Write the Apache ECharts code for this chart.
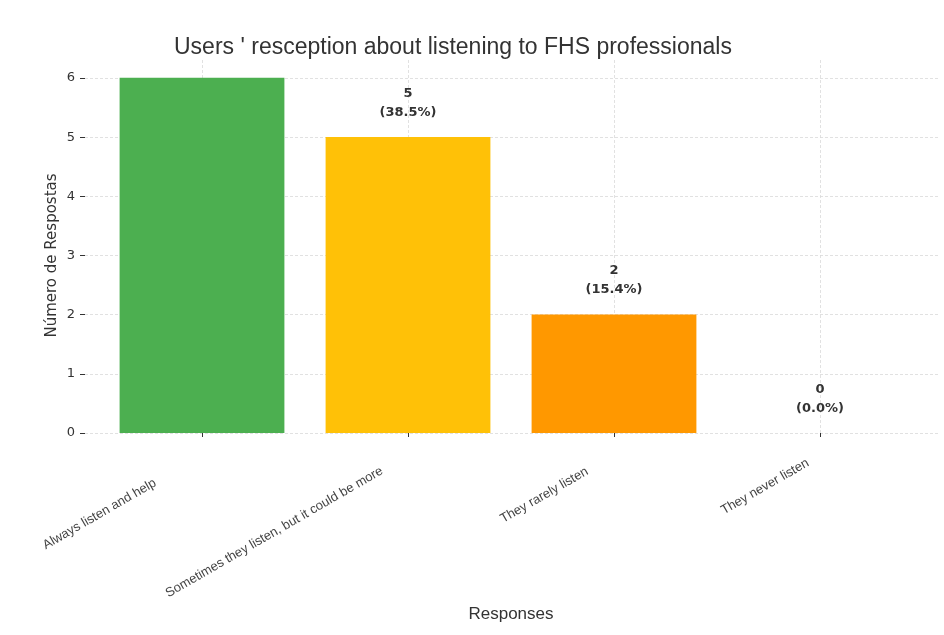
<!DOCTYPE html>
<html>
<head>
<meta charset="utf-8">
<script src="https://cdn.jsdelivr.net/npm/echarts@6/dist/echarts.min.js"></script>
<style>
html,body{margin:0;padding:0;background:#fff;}
#chart{width:944px;height:635px;}
</style>
</head>
<body>
<div id="chart"></div>
<script>
var categories = ['Always listen and help', 'Sometimes they listen, but it could be more', 'They rarely listen', 'They never listen'];
var counts = [6, 5, 2, 0];
var percents = ['46.2%', '38.5%', '15.4%', '0.0%'];
var showLabel = [false, true, true, true];
var barColors = ['#4CAF50', '#FFC107', '#FF9800', '#F44336'];
var yTicks = [0, 1, 2, 3, 4, 5, 6];
var labelShift = [54, 30, 31, 14];

var chart = echarts.init(document.getElementById('chart'), null, {renderer: 'canvas'});

var gridLine = {show: true, lineStyle: {color: '#d9d9d9', type: [3, 2], width: 0.8}};

var option = {
  backgroundColor: '#ffffff',
  animation: false,
  title: {
    text: "Users ' resception about listening to FHS professionals",
    left: 169, top: 31,
    textStyle: {fontFamily: 'Liberation Sans', fontSize: 23, fontWeight: 'normal', color: '#333333'}
  },
  grid: [
    {left: 99, right: 21, top: 60, bottom: 202},
    {left: 85, right: 4, top: 78, bottom: 202}
  ],
  xAxis: [
    {
      type: 'category', gridIndex: 0,
      data: categories.map(function (c, i) {
        return {value: c, textStyle: {padding: [0, labelShift[i], 0, 0]}};
      }),
      axisLine: {show: false},
      axisTick: {show: true, alignWithLabel: true, length: 4, lineStyle: {color: '#333333', width: 1}},
      axisLabel: {rotate: 30, margin: 22, interval: 0, fontFamily: 'Liberation Sans', fontSize: 13, color: '#444444'},
      splitLine: {show: false},
      name: 'Responses', nameLocation: 'middle', nameGap: 172,
      nameTextStyle: {fontFamily: 'Liberation Sans', fontSize: 17, color: '#333333'}
    },
    {
      type: 'value', gridIndex: 0, min: 0, max: 8, interval: 1,
      axisLine: {show: false}, axisTick: {show: false}, axisLabel: {show: false},
      splitLine: {show: true, lineStyle: {color: ['rgba(0,0,0,0)', '#d9d9d9'], type: [3, 2], width: 0.8}}
    },
    {
      type: 'value', gridIndex: 1, min: 0, max: 10,
      show: false
    }
  ],
  yAxis: [
    {
      type: 'value', gridIndex: 0, min: 0, max: 6.3,
      show: false, splitLine: {show: false}
    },
    {
      type: 'value', gridIndex: 1, min: 0, max: yTicks[yTicks.length - 1], interval: 1,
      axisLine: {show: false},
      axisTick: {show: true, length: 5, lineStyle: {color: '#333333'}},
      axisLabel: {margin: 10, fontFamily: 'DejaVu Sans', fontSize: 13, color: '#333333'},
      splitLine: gridLine,
      name: 'Número de Respostas', nameLocation: 'middle', nameGap: 25, nameMoveOverlap: false,
      nameTextStyle: {fontFamily: 'DejaVu Sans', fontSize: 15, color: '#333333'}
    }
  ],
  series: [
    {
      type: 'bar', xAxisIndex: 0, yAxisIndex: 0,
      barWidth: '80%',
      data: counts.map(function (v, i) {
        return {
          value: v,
          itemStyle: {color: barColors[i]},
          label: {show: showLabel[i]}
        };
      }),
      label: {
        show: true, position: 'top', distance: 15,
        fontFamily: 'DejaVu Sans', fontSize: 13, fontWeight: 'bold', color: '#333333',
        lineHeight: 19, align: 'center',
        formatter: function (p) { return p.value + '\n(' + percents[p.dataIndex] + ')'; }
      },
      z: 3
    }
  ]
};
chart.setOption(option);
</script>
</body>
</html>
